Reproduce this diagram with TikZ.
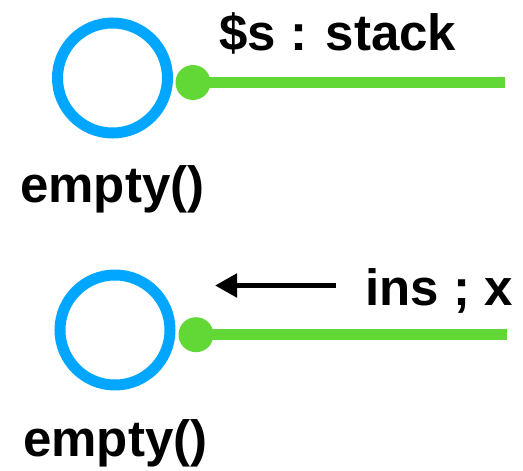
\documentclass[tikz,border=0pt]{standalone}
\usepackage{fontspec}
\setmainfont{Liberation Sans}
\usetikzlibrary{arrows.meta}
\definecolor{ringblue}{RGB}{0,166,255}
\definecolor{linegreen}{RGB}{98,216,54}
\begin{document}
\begin{tikzpicture}[x=1pt,y=-1pt,
  ring/.style={circle,draw=ringblue,line width=11pt,minimum size=110pt,inner sep=0pt},
  dot/.style={circle,fill=linegreen,minimum size=35pt,inner sep=0pt},
  wire/.style={draw=linegreen,line width=11pt},
  lbl/.style={anchor=base west,inner sep=0pt,font=\fontsize{51}{51}\selectfont\bfseries},
  msg/.style={line width=5pt,-{Triangle[length=22pt,width=23pt]}}]
\useasboundingbox (0,0) rectangle (523,471);
% top
\node[ring] (c1) at (112.5,78) {};
\coordinate (e1) at (505,82.5);
\path[wire] (193,82.5) -- (e1);
\node[dot] (d1) at (193,82.5) {};
\node[lbl] (t1) at (219,50) {\$s : stack};
\node[lbl] (n1) at (20,202) {empty()};
% bottom
\node[ring] (c2) at (115,330) {};
\coordinate (e2) at (507,334.7);
\path[wire] (196,334.7) -- (e2);
\node[dot] (d2) at (196,334.7) {};
\coordinate (a1) at (336,285.5);
\coordinate (a2) at (215,285.5);
\draw[msg] (a1) -- (a2);
\node[lbl] (t2) at (365,305) {ins ; x};
\node[lbl] (n2) at (23,456) {empty()};
\end{tikzpicture}
\end{document}
